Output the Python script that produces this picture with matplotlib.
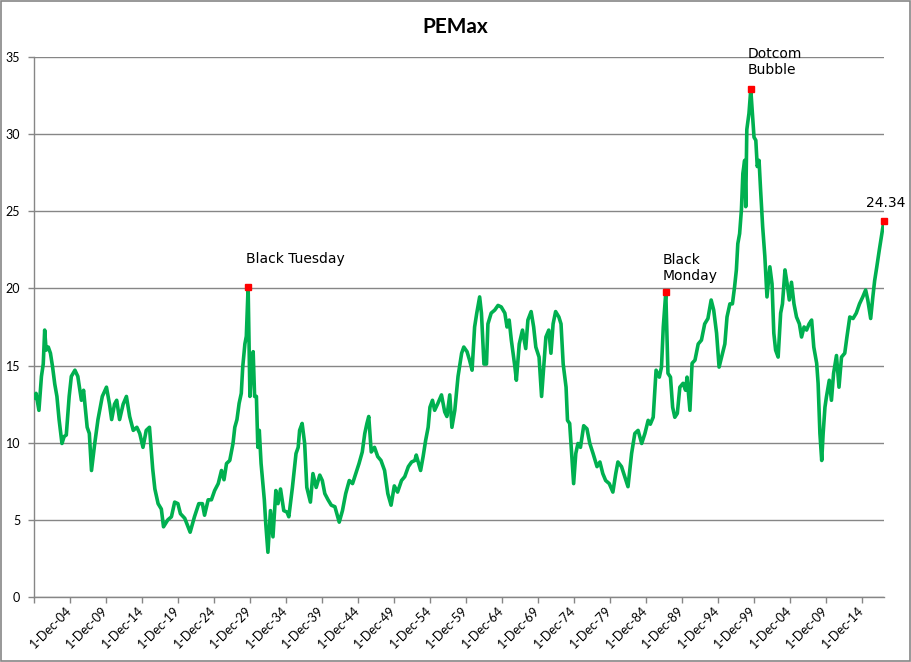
import matplotlib.pyplot as plt
from matplotlib.patches import Rectangle

# PE series (decimal year, value)
years = [1900.0, 1900.2, 1900.6, 1900.95, 1901.2, 1901.4, 1901.6, 1901.9, 1902.2, 1902.5,
         1902.8, 1903.1, 1903.4, 1903.8, 1904.1, 1904.4, 1904.8, 1905.1, 1905.6, 1906.0,
         1906.5, 1906.8, 1907.3, 1907.6, 1907.9, 1908.35, 1908.8, 1909.4, 1909.98, 1910.4,
         1910.7, 1911.1, 1911.4, 1911.8, 1912.3, 1912.75, 1913.2, 1913.7, 1914.2, 1914.6,
         1915.05, 1915.5, 1915.95, 1916.4, 1916.7, 1917.15, 1917.6, 1917.9, 1918.5, 1919.0,
         1919.45, 1919.9, 1920.25, 1920.85, 1921.3, 1921.6, 1922.2, 1922.8, 1923.3, 1923.6,
         1924.1, 1924.55, 1925.0, 1925.5, 1925.95, 1926.3, 1926.65, 1927.1, 1927.55, 1927.8,
         1928.1, 1928.4, 1928.7, 1928.9, 1929.2, 1929.4, 1929.65, 1929.9, 1930.1, 1930.35,
         1930.55, 1930.8, 1931.0, 1931.2, 1931.45, 1931.9, 1932.1, 1932.4, 1932.75, 1933.1,
         1933.5, 1933.8, 1934.15, 1934.6, 1935.05, 1935.3, 1935.8, 1936.3, 1936.6, 1936.8,
         1937.15, 1937.5, 1937.8, 1938.3, 1938.65, 1939.1, 1939.6, 1939.95, 1940.3, 1940.75,
         1941.2, 1941.7, 1942.3, 1942.75, 1943.2, 1943.7, 1944.15, 1944.6, 1945.05, 1945.5,
         1945.85, 1946.15, 1946.4, 1946.75, 1947.2, 1947.65, 1948.1, 1948.6, 1949.05, 1949.5,
         1949.95, 1950.4, 1950.95, 1951.4, 1951.9, 1952.35, 1952.8, 1953.0, 1953.6, 1953.95,
         1954.3, 1954.65, 1954.9, 1955.25, 1955.55, 1956.0, 1956.5, 1956.95, 1957.25, 1957.65,
         1957.95, 1958.35, 1958.8, 1959.3, 1959.6, 1960.05, 1960.4, 1960.75, 1961.1, 1961.4,
         1961.8, 1962.05, 1962.3, 1962.4, 1962.75, 1962.95, 1963.4, 1963.9, 1964.35, 1964.8,
         1965.3, 1965.6, 1965.9, 1966.2, 1966.7, 1966.9, 1967.3, 1967.75, 1968.2, 1968.5,
         1968.95, 1969.3, 1969.6, 1970.05, 1970.4, 1970.7, 1971.0, 1971.4, 1971.7, 1972.0,
         1972.35, 1972.8, 1973.1, 1973.4, 1973.8, 1974.0, 1974.3, 1974.55, 1974.85, 1975.15,
         1975.45, 1975.8, 1976.25, 1976.7, 1977.1, 1977.55, 1978.1, 1978.5, 1978.9, 1979.3,
         1979.8, 1980.3, 1980.7, 1981.0, 1981.5, 1981.95, 1982.4, 1982.9, 1983.35, 1983.8,
         1984.3, 1984.75, 1985.2, 1985.5, 1985.9, 1986.3, 1986.75, 1987.05, 1987.3, 1987.65,
         1987.95, 1988.3, 1988.6, 1988.9, 1989.25, 1989.6, 1990.05, 1990.4, 1990.6, 1991.0,
         1991.3, 1991.7, 1992.15, 1992.6, 1993.05, 1993.5, 1993.95, 1994.3, 1994.7, 1995.05,
         1995.4, 1995.85, 1996.15, 1996.55, 1996.9, 1997.2, 1997.45, 1997.65, 1997.9, 1998.15,
         1998.35, 1998.6, 1998.75, 1998.9, 1999.2, 1999.45, 1999.65, 1999.9, 2000.15, 2000.35,
         2000.6, 2000.8, 2001.1, 2001.4, 2001.7, 2002.1, 2002.4, 2002.65, 2002.9, 2003.25,
         2003.6, 2003.85, 2004.2, 2004.5, 2004.8, 2005.1, 2005.45, 2005.8, 2006.2, 2006.5,
         2006.85, 2007.2, 2007.55, 2007.9, 2008.2, 2008.6, 2008.8, 2009.05, 2009.3, 2009.5,
         2009.75, 2009.95, 2010.35, 2010.65, 2010.95, 2011.35, 2011.7, 2012.05, 2012.5, 2012.8,
         2013.2, 2013.65, 2014.1, 2014.55, 2015.0, 2015.4, 2015.7, 2016.1, 2016.4, 2016.65,
         2016.95, 2017.3, 2017.65, 2017.92]
pe = [12.9, 13.2, 12.1, 14.3, 15.1, 17.3, 16.0, 16.2, 15.8, 14.9,
      13.8, 13.0, 11.5, 9.95, 10.4, 10.5, 13.0, 14.3, 14.7, 14.3,
      12.75, 13.4, 11.0, 10.6, 8.2, 9.95, 11.5, 13.0, 13.6, 12.5,
      11.5, 12.5, 12.75, 11.5, 12.5, 13.0, 11.7, 10.8, 11.0, 10.6,
      9.7, 10.8, 11.0, 8.3, 7.0, 6.05, 5.7, 4.55, 5.0, 5.2,
      6.15, 6.05, 5.4, 5.1, 4.55, 4.2, 5.2, 6.05, 6.05, 5.3,
      6.3, 6.3, 6.9, 7.35, 8.2, 7.6, 8.65, 8.85, 9.95, 11.0,
      11.5, 12.55, 13.2, 14.9, 16.4, 16.9, 20.1, 13.0, 14.7, 15.9,
      13.0, 13.0, 9.7, 10.8, 8.65, 6.3, 4.75, 2.9, 5.6, 3.9,
      6.9, 6.05, 7.0, 5.6, 5.5, 5.2, 7.1, 9.3, 9.7, 10.8,
      11.25, 9.95, 7.1, 6.15, 8.0, 7.1, 7.9, 7.55, 6.7, 6.3,
      5.95, 5.85, 4.85, 5.6, 6.7, 7.55, 7.35, 8.0, 8.65, 9.4,
      10.6, 11.25, 11.7, 9.4, 9.7, 9.1, 8.85, 8.2, 6.7, 5.95,
      7.2, 6.8, 7.55, 7.8, 8.45, 8.75, 8.85, 9.2, 8.2, 9.1,
      10.15, 11.0, 12.3, 12.75, 12.1, 12.55, 13.1, 12.0, 11.7, 13.1,
      11.0, 12.1, 14.3, 15.8, 16.2, 15.9, 15.35, 14.7, 17.5, 18.4,
      19.45, 18.4, 16.0, 15.1, 15.1, 17.7, 18.4, 18.6, 18.9, 18.8,
      18.4, 17.5, 17.95, 16.65, 14.9, 14.05, 16.4, 17.3, 16.1, 17.95,
      18.5, 17.5, 16.2, 15.55, 13.0, 14.9, 16.85, 17.3, 15.8, 17.7,
      18.5, 18.15, 17.7, 15.1, 13.6, 11.45, 11.25, 9.5, 7.35, 9.3,
      9.95, 9.7, 11.1, 10.9, 9.95, 9.3, 8.45, 8.75, 8.0, 7.55,
      7.35, 6.8, 8.0, 8.75, 8.45, 7.8, 7.15, 9.3, 10.6, 10.8,
      9.95, 10.6, 11.45, 11.2, 11.65, 14.7, 14.25, 14.9, 17.5, 19.75,
      14.5, 14.25, 12.3, 11.65, 11.9, 13.6, 13.85, 13.4, 14.25, 12.1,
      15.15, 15.35, 16.4, 16.65, 17.7, 18.05, 19.25, 18.6, 17.1, 14.9,
      15.55, 16.4, 18.15, 19.0, 19.0, 20.1, 21.2, 22.9, 23.55, 25.1,
      27.45, 28.3, 25.3, 30.3, 31.35, 32.9, 31.55, 29.8, 29.6, 27.9,
      28.3, 26.5, 24.0, 22.1, 19.45, 21.4, 20.3, 17.1, 16.0, 15.55,
      18.4, 19.0, 21.2, 20.3, 19.25, 20.4, 19.0, 18.15, 17.7, 16.85,
      17.5, 17.3, 17.7, 17.95, 16.2, 15.15, 13.85, 10.6, 8.85, 10.6,
      12.3, 12.95, 14.05, 12.75, 14.5, 15.65, 13.6, 15.55, 15.8, 16.85,
      18.15, 18.05, 18.4, 19.0, 19.45, 19.9, 19.25, 18.05, 19.45, 20.5,
      21.4, 22.5, 23.55, 24.34]

peak_years = [1929.65, 1987.65, 1999.45, 2017.92]
peak_labels = ['Black Tuesday', 'Black\nMonday', 'Dotcom\nBubble', '24.34']

tick_years = list(range(1899, 2015, 5))
tick_labels = [''] + ['1-Dec-%02d' % (y % 100) for y in tick_years[1:]]

fig = plt.figure(figsize=(9.11, 6.62), dpi=100)
ax = fig.add_axes([34/911, 1 - 597/662, 850/911, 540/662])

ax.plot(years, pe, color='#00B050', lw=2.6, solid_joinstyle='round', zorder=3)

# red markers + labels on the peaks
offsets = [(-2, 24, 'left'), (-3, 12, 'left'), (-3, 15, 'left'), (2, 14, 'center')]
for yr, lab, (dx, dy, ha) in zip(peak_years, peak_labels, offsets):
    v = pe[years.index(yr)]
    ax.plot(yr, v, 's', color='red', ms=4, mec='red', zorder=4, clip_on=False)
    ax.annotate(lab, (yr, v), xytext=(dx, dy), textcoords='offset pixels',
                ha=ha, va='baseline', fontsize=10, family='DejaVu Sans',
                linespacing=1.2)

ax.set_xlim(1899 + 11/12, 2017.95)
ax.set_ylim(0, 35)
ax.set_yticks(range(0, 36, 5))
ax.set_xticks([y + 11/12 for y in tick_years])
ax.set_xticklabels(tick_labels, rotation=45, ha='right', va='center',
                   rotation_mode='anchor', family='Lato', fontsize=9)
for t in ax.get_yticklabels():
    t.set_family('Lato')
    t.set_fontsize(9)

ax.grid(axis='y', color='#868686', lw=1)
ax.set_axisbelow(True)
ax.tick_params(axis='both', direction='out', length=4, color='#868686', width=1)
ax.tick_params(axis='x', pad=4)
ax.tick_params(axis='y', pad=6)
for s in ['top', 'right']:
    ax.spines[s].set_visible(False)
for s in ['left', 'bottom']:
    ax.spines[s].set_color('#868686')
    ax.spines[s].set_linewidth(1)

fig.text(0.5, 1 - 27/662, 'PEMax', ha='center', va='center', fontsize=15,
         weight='bold', family='Lato')

# chart area border
fig.patches.append(Rectangle((0.001, 0.002), 0.998, 0.996, transform=fig.transFigure,
                             fill=False, ec='#868686', lw=1.2))

fig.savefig('out.png', dpi=100)
